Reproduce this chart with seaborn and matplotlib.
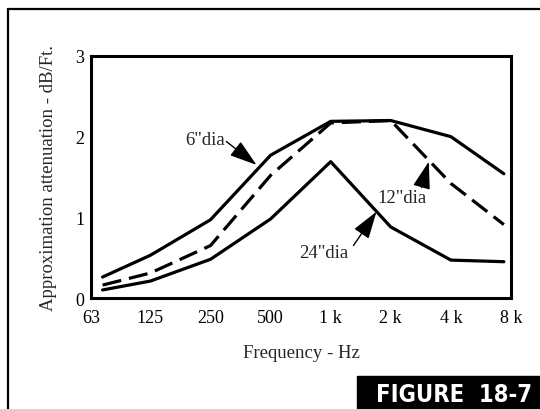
import matplotlib
matplotlib.use('Agg')
import matplotlib.pyplot as plt
from matplotlib.patches import Rectangle
from matplotlib.lines import Line2D
import seaborn as sns

# Values
freq = [72, 125, 250, 500, 1000, 2000, 4000, 7370]
dia_6 = [0.26, 0.53, 0.97, 1.77, 2.19, 2.20, 2.00, 1.54]
dia_12 = [0.16, 0.31, 0.65, 1.52, 2.17, 2.20, 1.42, 0.91]
dia_24 = [0.10, 0.21, 0.48, 0.98, 1.69, 0.88, 0.47, 0.45]

tick_freq = [63, 125, 250, 500, 1000, 2000, 4000, 8000]
tick_labels = ['63', '125', '250', '500', '1 k', '2 k', '4 k', '8 k']

sns.set_style('white')
plt.rcParams['font.family'] = ['Liberation Serif', 'DejaVu Serif']

fig = plt.figure(figsize=(5.4, 4.1), dpi=100)
ax = fig.add_axes([0.1685, 0.2707, 0.7778, 0.5903])

sns.lineplot(x=freq, y=dia_6, color='black', lw=2.3, ax=ax)
sns.lineplot(x=freq, y=dia_12, color='black', lw=2.3, linestyle=(0, (6, 2.5)), ax=ax)
sns.lineplot(x=freq, y=dia_24, color='black', lw=2.3, ax=ax)

ax.set_xscale('log', base=2)
ax.set_xlim(63, 8000)
ax.set_ylim(0, 3)
ax.set_xticks(tick_freq)
ax.set_xticklabels(tick_labels)
ax.minorticks_off()
ax.set_yticks([0, 1, 2, 3])
ax.set_yticklabels(['0', '1', '2', '3'])
ax.tick_params(direction='in', length=6, width=2, labelsize=13, colors='black')
ax.tick_params(axis='x', pad=8)
ax.tick_params(axis='y', pad=5)
for s in ax.spines.values():
    s.set_color('black')
    s.set_linewidth(2.2)

ax.set_xlabel('Frequency - Hz', fontsize=13.5, labelpad=13)
ax.set_ylabel('Approximation attenuation - dB/Ft.', fontsize=13.5, labelpad=13)

# labels with arrows
arrow = dict(arrowstyle='-|>,head_length=1.0,head_width=0.32', color='black',
             lw=1, shrinkA=0, shrinkB=0, mutation_scale=17)
ax.text(235, 1.97, '6"dia', fontsize=13.5, ha='center', va='center')
ax.annotate('', xy=(425, 1.65), xytext=(300, 1.94), arrowprops=arrow)
ax.text(2275, 1.25, '12"dia', fontsize=13.5, ha='center', va='center')
ax.annotate('', xy=(3100, 1.69), xytext=(2850, 1.37), arrowprops=arrow)
ax.text(925, 0.56, '24"dia', fontsize=13.5, ha='center', va='center')
ax.annotate('', xy=(1695, 1.07), xytext=(1300, 0.65), arrowprops=arrow)

# page frame and figure tag
fig.add_artist(Line2D([7.5 / 540, 7.5 / 540], [0, 1 - 9.5 / 410], color='black', lw=1.6))
fig.add_artist(Line2D([7.5 / 540, 1], [1 - 9.5 / 410, 1 - 9.5 / 410], color='black', lw=1.6))
fig.add_artist(Rectangle((357 / 540, 0), 1, 33.5 / 410, color='black'))
fig.text(0.841, 0.037, 'FIGURE  18-7', color='white', fontsize=17, fontweight='bold',
         family=['DejaVu Sans'], fontstretch='condensed',
         ha='center', va='center')

fig.savefig('out.png', dpi=100)
